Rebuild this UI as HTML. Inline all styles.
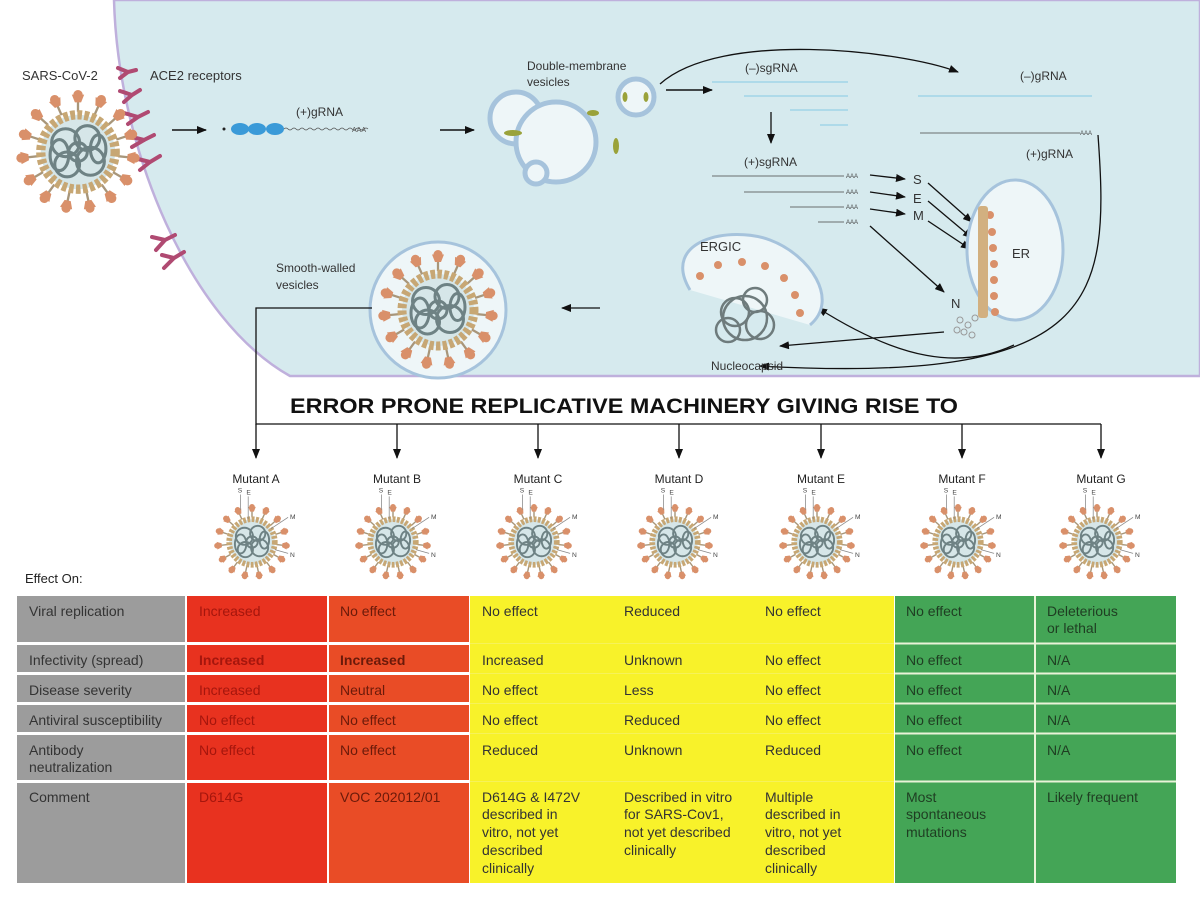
<!DOCTYPE html>
<html><head><meta charset="utf-8"><style>
html,body{margin:0;padding:0;background:#fff;}
svg{display:block;font-family:"Liberation Sans",Arial,sans-serif;}
</style></head><body>
<svg width="1200" height="897" viewBox="0 0 1200 897" xmlns="http://www.w3.org/2000/svg">
<defs>
<marker id="ar" markerWidth="10" markerHeight="8" refX="9" refY="4" orient="auto" markerUnits="userSpaceOnUse"><path d="M0,0 L10,4 L0,8 Z" fill="#111"/></marker>
<g id="spk"><line x1="0" y1="-26" x2="0" y2="-33" stroke="#a8967a" stroke-width="1.5"/><path d="M-4,-37 L4,-37 L2,-32 L-2,-32 Z" fill="#d9906a"/><circle cx="0" cy="-37" r="3" fill="#d9906a"/></g>
<g id="vir">
<use href="#spk" transform="rotate(0)"/><use href="#spk" transform="rotate(24)"/><use href="#spk" transform="rotate(48)"/><use href="#spk" transform="rotate(72)"/><use href="#spk" transform="rotate(96)"/><use href="#spk" transform="rotate(120)"/><use href="#spk" transform="rotate(144)"/><use href="#spk" transform="rotate(168)"/><use href="#spk" transform="rotate(192)"/><use href="#spk" transform="rotate(216)"/><use href="#spk" transform="rotate(240)"/><use href="#spk" transform="rotate(264)"/><use href="#spk" transform="rotate(288)"/><use href="#spk" transform="rotate(312)"/><use href="#spk" transform="rotate(336)"/>
<circle r="24" fill="#d6e6e8" stroke="#c7a774" stroke-width="6" stroke-dasharray="3 1.5"/>
<g fill="none" stroke="#6e8284" stroke-width="2">
<circle cx="-8" cy="-6" r="9"/><circle cx="6" cy="-9" r="8"/><circle cx="8" cy="6" r="9"/><circle cx="-7" cy="8" r="8"/><circle cx="0" cy="0" r="6"/><ellipse cx="-12" cy="2" rx="6" ry="10"/><ellipse cx="13" cy="-2" rx="5" ry="9"/>
</g></g>
<g id="mvir"><use href="#vir"/>
<g stroke="#888" stroke-width="0.8" fill="none"><line x1="-12" y1="-34" x2="-12" y2="-50"/><line x1="-4" y1="-24" x2="-4" y2="-48"/><line x1="20" y1="-14" x2="38" y2="-26"/><line x1="24" y1="8" x2="38" y2="12"/></g>
<g font-size="7" fill="#444"><text x="-15" y="-52">S</text><text x="-6" y="-50">E</text><text x="40" y="-24">M</text><text x="40" y="16">N</text></g></g>
</defs>

<!-- cell -->
<path d="M114,0 C118,150 190,320 290,376 L1200,376 L1200,0 Z" fill="#d6eaee" stroke="#bfb0dc" stroke-width="2.5"/>

<!-- ACE2 receptors -->
<g stroke="#b04a72" stroke-width="4" fill="none" stroke-linecap="round">
<path d="M118,68 L128,72 M120,78 L128,72 L136,70"/>
<path d="M120,91 L132,95 M124,102 L132,95 L140,90"/>
<path d="M124,113 L138,117 M128,124 L138,117 L148,112"/>
<path d="M128,136 L144,140 M132,147 L144,140 L154,135"/>
<path d="M134,158 L150,162 M140,170 L150,162 L160,156"/>
<path d="M152,237 L165,240 M156,250 L165,240 L175,235"/>
<path d="M162,255 L174,258 M164,268 L174,258 L184,252"/>
</g>
<text x="22" y="80" font-size="13" fill="#333">SARS-CoV-2</text>
<text x="150" y="80" font-size="13" fill="#333">ACE2 receptors</text>
<use href="#vir" transform="translate(78,152) scale(1.55)"/>

<line x1="172" y1="130" x2="206" y2="130" stroke="#111" stroke-width="1.5" marker-end="url(#ar)"/>
<circle cx="224" cy="129" r="1.5" fill="#222"/>
<ellipse cx="240" cy="129" rx="9" ry="6" fill="#3a9ad8"/><ellipse cx="257" cy="129" rx="9" ry="6" fill="#3a9ad8"/><ellipse cx="275" cy="129" rx="9" ry="6" fill="#3a9ad8"/>
<path d="M284,129 q2,-2 4,0 t4,0 t4,0 t4,0 t4,0 t4,0 t4,0 t4,0 t4,0 t4,0 t4,0 t4,0 t4,0 t4,0 t4,0 t4,0 t4,0 t4,0 t4,0 t4,0 t4,0" fill="none" stroke="#555" stroke-width="0.8"/>
<text x="352" y="132" font-size="7" fill="#555">AAA</text>
<text x="296" y="116" font-size="12" fill="#333">(+)gRNA</text>
<line x1="440" y1="130" x2="474" y2="130" stroke="#111" stroke-width="1.5" marker-end="url(#ar)"/>

<!-- DMVs -->
<g fill="#eef6f8" stroke="#a6c3dc" stroke-width="5">
<circle cx="516" cy="118" r="26"/><circle cx="556" cy="142" r="40"/><circle cx="536" cy="173" r="11"/><circle cx="636" cy="97" r="18"/>
</g>
<g fill="#9aa23a"><ellipse cx="513" cy="133" rx="9" ry="3"/><ellipse cx="593" cy="113" rx="6" ry="3"/><ellipse cx="616" cy="146" rx="3" ry="8"/><ellipse cx="625" cy="97" rx="2.5" ry="5"/><ellipse cx="646" cy="97" rx="2.5" ry="5"/></g>
<text x="527" y="70" font-size="12" fill="#333">Double-membrane</text>
<text x="527" y="86" font-size="12" fill="#333">vesicles</text>

<path d="M660,84 C720,30 900,50 958,72" fill="none" stroke="#111" stroke-width="1.3" marker-end="url(#ar)"/>
<line x1="666" y1="90" x2="712" y2="90" stroke="#111" stroke-width="1.5" marker-end="url(#ar)"/>

<text x="745" y="72" font-size="12" fill="#333">(–)sgRNA</text>
<g fill="none" stroke="#6cc0e0" stroke-width="0.8">
<path d="M712,82 h136"/><path d="M744,96 h104"/><path d="M790,110 h58"/><path d="M820,125 h28"/>
<path d="M918,96 h174"/>
</g>
<text x="1020" y="80" font-size="12" fill="#333">(–)gRNA</text>
<line x1="771" y1="112" x2="771" y2="143" stroke="#111" stroke-width="1.3" marker-end="url(#ar)"/>
<text x="744" y="166" font-size="12" fill="#333">(+)sgRNA</text>
<g fill="none" stroke="#444" stroke-width="0.8">
<path d="M712,176 h132"/><path d="M744,192 h100"/><path d="M790,207 h54"/><path d="M818,222 h26"/>
<path d="M920,133 h160"/>
</g>
<g font-size="6" fill="#444"><text x="846" y="178">AAA</text><text x="846" y="194">AAA</text><text x="846" y="209">AAA</text><text x="846" y="224">AAA</text><text x="1080" y="135">AAA</text></g>
<text x="1026" y="158" font-size="12" fill="#333">(+)gRNA</text>

<g stroke="#111" stroke-width="1.3" marker-end="url(#ar)" fill="none">
<line x1="870" y1="175" x2="905" y2="179"/><line x1="870" y1="192" x2="905" y2="197"/><line x1="870" y1="209" x2="905" y2="214"/>
<line x1="928" y1="183" x2="972" y2="222"/><line x1="928" y1="201" x2="972" y2="238"/><line x1="928" y1="221" x2="970" y2="249"/>
<line x1="870" y1="226" x2="944" y2="292"/>
<path d="M1098,135 C1110,300 1100,385 760,366"/>
<path d="M944,332 L780,346"/>
<path d="M1014,345 C960,370 900,360 818,308"/>
<line x1="600" y1="308" x2="562" y2="308"/>
</g>
<g font-size="13" fill="#333"><text x="913" y="184">S</text><text x="913" y="203">E</text><text x="913" y="220">M</text><text x="951" y="308">N</text></g>

<!-- ER -->
<ellipse cx="1015" cy="250" rx="48" ry="70" fill="#eef6f8" stroke="#a6c3dc" stroke-width="3"/>
<g fill="#d9906a"><circle cx="990" cy="215" r="4"/><circle cx="992" cy="232" r="4"/><circle cx="993" cy="248" r="4"/><circle cx="994" cy="264" r="4"/><circle cx="994" cy="280" r="4"/><circle cx="994" cy="296" r="4"/><circle cx="995" cy="312" r="4"/></g>
<rect x="978" y="206" width="10" height="112" fill="#d2b080" rx="3"/>
<text x="1012" y="258" font-size="13" fill="#333">ER</text>
<g fill="none" stroke="#999" stroke-width="1"><circle cx="960" cy="320" r="3"/><circle cx="968" cy="325" r="3"/><circle cx="964" cy="332" r="3"/><circle cx="975" cy="318" r="3"/><circle cx="972" cy="335" r="3"/><circle cx="957" cy="330" r="3"/></g>

<!-- ERGIC -->
<path d="M690,290 C660,240 730,225 770,240 C810,255 840,300 810,325" fill="#eef6f8" stroke="#a6c3dc" stroke-width="3"/>
<text x="700" y="251" font-size="13" fill="#333">ERGIC</text>
<g fill="none" stroke="#6e7b7c" stroke-width="2.5"><circle cx="735" cy="312" r="14"/><circle cx="755" cy="300" r="12"/><circle cx="760" cy="325" r="14"/><circle cx="728" cy="330" r="12"/><circle cx="745" cy="318" r="22"/></g>
<g fill="#d9906a"><circle cx="700" cy="276" r="4"/><circle cx="718" cy="265" r="4"/><circle cx="742" cy="262" r="4"/><circle cx="765" cy="266" r="4"/><circle cx="784" cy="278" r="4"/><circle cx="795" cy="295" r="4"/><circle cx="800" cy="313" r="4"/></g>
<text x="711" y="370" font-size="12" fill="#333">Nucleocapsid</text>

<!-- smooth-walled vesicle -->
<circle cx="438" cy="310" r="68" fill="#eef6f8" stroke="#a6c3dc" stroke-width="3"/>
<use href="#vir" transform="translate(438,310) scale(1.5)"/>
<text x="276" y="272" font-size="12" fill="#333">Smooth-walled</text>
<text x="276" y="289" font-size="12" fill="#333">vesicles</text>

<!-- connectors -->
<polyline points="372,308 256,308 256,424 1101,424" fill="none" stroke="#111" stroke-width="1.3"/>
<g stroke="#111" stroke-width="1.3" marker-end="url(#ar)">
<line x1="256" y1="424" x2="256" y2="458"/><line x1="397" y1="424" x2="397" y2="458"/><line x1="538" y1="424" x2="538" y2="458"/><line x1="679" y1="424" x2="679" y2="458"/><line x1="821" y1="424" x2="821" y2="458"/><line x1="962" y1="424" x2="962" y2="458"/><line x1="1101" y1="424" x2="1101" y2="458"/>
</g>
<text x="290" y="413" font-size="21" font-weight="bold" fill="#111" textLength="668" lengthAdjust="spacingAndGlyphs">ERROR PRONE REPLICATIVE MACHINERY GIVING RISE TO</text>

<g font-size="12" fill="#222" text-anchor="middle">
<text x="256" y="483">Mutant A</text><text x="397" y="483">Mutant B</text><text x="538" y="483">Mutant C</text><text x="679" y="483">Mutant D</text><text x="821" y="483">Mutant E</text><text x="962" y="483">Mutant F</text><text x="1101" y="483">Mutant G</text>
</g>
<use href="#mvir" transform="translate(252,542) scale(0.95)"/><use href="#mvir" transform="translate(393,542) scale(0.95)"/><use href="#mvir" transform="translate(534,542) scale(0.95)"/><use href="#mvir" transform="translate(675,542) scale(0.95)"/><use href="#mvir" transform="translate(817,542) scale(0.95)"/><use href="#mvir" transform="translate(958,542) scale(0.95)"/><use href="#mvir" transform="translate(1097,542) scale(0.95)"/>

<text x="25" y="583" font-size="13" fill="#222">Effect On:</text>

<!-- table -->
<g>
<rect x="17" y="596" width="1160" height="288" fill="#fff"/>
<g fill="#9c9c9c"><rect x="17" y="596" width="168" height="46"/><rect x="17" y="645" width="168" height="27"/><rect x="17" y="675" width="168" height="27"/><rect x="17" y="705" width="168" height="27"/><rect x="17" y="735" width="168" height="45"/><rect x="17" y="783" width="168" height="100"/></g>
<g fill="#e8321f"><rect x="187" y="596" width="140" height="46"/><rect x="187" y="645" width="140" height="27"/><rect x="187" y="675" width="140" height="27"/><rect x="187" y="705" width="140" height="27"/><rect x="187" y="735" width="140" height="45"/><rect x="187" y="783" width="140" height="100"/></g>
<g fill="#e94c26"><rect x="329" y="596" width="140" height="46"/><rect x="329" y="645" width="140" height="27"/><rect x="329" y="675" width="140" height="27"/><rect x="329" y="705" width="140" height="27"/><rect x="329" y="735" width="140" height="45"/><rect x="329" y="783" width="140" height="100"/></g>
<rect x="470" y="596" width="424" height="287" fill="#f8f22a"/>
<rect x="895" y="596" width="281" height="287" fill="#44a556"/>
<g stroke="#e9f3d8" stroke-width="2"><line x1="895" y1="643.5" x2="1176" y2="643.5"/><line x1="895" y1="673.5" x2="1176" y2="673.5"/><line x1="895" y1="703.5" x2="1176" y2="703.5"/><line x1="895" y1="733.5" x2="1176" y2="733.5"/><line x1="895" y1="781.5" x2="1176" y2="781.5"/><line x1="1035" y1="596" x2="1035" y2="883"/></g>
<g stroke="#f6f27a" stroke-width="1" opacity="0.6"><line x1="470" y1="643.5" x2="894" y2="643.5"/><line x1="470" y1="673.5" x2="894" y2="673.5"/><line x1="470" y1="703.5" x2="894" y2="703.5"/><line x1="470" y1="733.5" x2="894" y2="733.5"/><line x1="470" y1="781.5" x2="894" y2="781.5"/></g>
</g>
<g font-size="14" fill="#333">
<text x="29" y="616">Viral replication</text><text x="29" y="665">Infectivity (spread)</text><text x="29" y="695">Disease severity</text><text x="29" y="725">Antiviral susceptibility</text><text x="29" y="755">Antibody</text><text x="29" y="772">neutralization</text><text x="29" y="802">Comment</text>
</g>
<g font-size="14" fill="#a5160d">
<text x="199" y="616">Increased</text><text x="199" y="665" font-weight="bold">Increased</text><text x="199" y="695">Increased</text><text x="199" y="725">No effect</text><text x="199" y="755">No effect</text><text x="199" y="802">D614G</text>
</g>
<g font-size="14" fill="#6a1a0a">
<text x="340" y="616">No effect</text><text x="340" y="665" font-weight="bold">Increased</text><text x="340" y="695">Neutral</text><text x="340" y="725">No effect</text><text x="340" y="755">No effect</text><text x="340" y="802">VOC 202012/01</text>
</g>
<g font-size="14" fill="#333">
<text x="482" y="616">No effect</text><text x="482" y="665">Increased</text><text x="482" y="695">No effect</text><text x="482" y="725">No effect</text><text x="482" y="755">Reduced</text>
<text x="482" y="802">D614G &amp; I472V</text><text x="482" y="819">described in</text><text x="482" y="837">vitro, not yet</text><text x="482" y="855">described</text><text x="482" y="873">clinically</text>
<text x="624" y="616">Reduced</text><text x="624" y="665">Unknown</text><text x="624" y="695">Less</text><text x="624" y="725">Reduced</text><text x="624" y="755">Unknown</text>
<text x="624" y="802">Described in vitro</text><text x="624" y="819">for SARS-Cov1,</text><text x="624" y="837">not yet described</text><text x="624" y="855">clinically</text>
<text x="765" y="616">No effect</text><text x="765" y="665">No effect</text><text x="765" y="695">No effect</text><text x="765" y="725">No effect</text><text x="765" y="755">Reduced</text>
<text x="765" y="802">Multiple</text><text x="765" y="819">described in</text><text x="765" y="837">vitro, not yet</text><text x="765" y="855">described</text><text x="765" y="873">clinically</text>
</g>
<g font-size="14" fill="#1f3d22">
<text x="906" y="616">No effect</text><text x="906" y="665">No effect</text><text x="906" y="695">No effect</text><text x="906" y="725">No effect</text><text x="906" y="755">No effect</text>
<text x="906" y="802">Most</text><text x="906" y="819">spontaneous</text><text x="906" y="837">mutations</text>
<text x="1047" y="616">Deleterious</text><text x="1047" y="633">or lethal</text><text x="1047" y="665">N/A</text><text x="1047" y="695">N/A</text><text x="1047" y="725">N/A</text><text x="1047" y="755">N/A</text><text x="1047" y="802">Likely frequent</text>
</g>
</svg>
</body></html>
